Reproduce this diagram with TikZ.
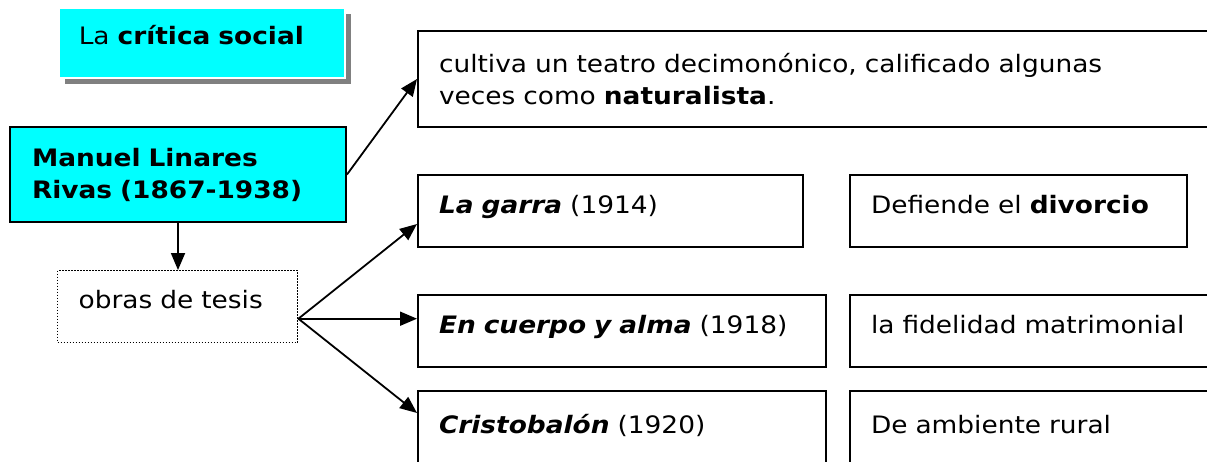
\documentclass[tikz,border=0pt]{standalone}
\usepackage{fontspec}
\setmainfont{DejaVu Sans}[FakeStretch=1.1]
\usetikzlibrary{arrows.meta,shadows}
\definecolor{cian}{RGB}{0,255,255}

\begin{document}
\begin{tikzpicture}[x=1pt,y=-1pt]
    \clip (0,0) rectangle (1207,461);
    \tikzset{caja/.style = {%
        draw, line width=2pt, anchor=north west,
        inner xsep=21pt, inner ysep=0pt, align=left,
        font=\fontsize{24}{32}\selectfont},
      linea/.style = {text height=18pt, text depth=14pt},
      flecha/.style = {line width=1.8pt,
        -{Triangle[length=17pt,width=14pt]}}}
    % columna izquierda
    \node[caja, linea, draw=white, line width=1.5pt, fill=cian, inner xsep=20pt,
        drop shadow={shadow xshift=6pt,shadow yshift=-6pt,fill=gray,opacity=1},
        minimum width=286pt, minimum height=70pt, text width=246pt]
        (critica) at (58,7) {La \textbf{crítica social}};
    \node[caja, fill=cian, inner xsep=22pt, minimum width=336pt,
        minimum height=95pt, text width=292pt]
        (linares) at (9,126) {\textbf{Manuel Linares}\\\textbf{Rivas (1867-1938)}};
    \node[caja, linea, line width=1.4pt, dash pattern=on 1.5pt off 1.5pt,
        minimum width=240pt, minimum height=72pt, text width=198pt]
        (tesis) at (57,270) {obras de tesis};
    % columna central
    \node[caja, minimum width=820pt, minimum height=96pt, text width=778pt]
        (teatro) at (417,30) {cultiva un teatro decimonónico, calificado algunas\\
        veces como \textbf{naturalista}.};
    \node[caja, linea, minimum width=385pt, minimum height=72pt, text width=343pt]
        (garra) at (417,174) {\textbf{\textit{La garra}} (1914)};
    \node[caja, linea, minimum width=408pt, minimum height=72pt, text width=366pt]
        (cuerpo) at (417,294) {\textbf{\textit{En cuerpo y alma}} (1918)};
    \node[caja, linea, minimum width=408pt, minimum height=80pt, text width=366pt]
        (cristobalon) at (417,390) {\textbf{\textit{Cristobalón}} (1920)};
    % columna derecha
    \node[caja, linea, minimum width=337pt, minimum height=72pt, text width=295pt]
        (divorcio) at (849,174) {Defiende el \textbf{divorcio}};
    \node[caja, linea, minimum width=400pt, minimum height=72pt, text width=358pt]
        (fidelidad) at (849,294) {la fidelidad matrimonial};
    \node[caja, linea, minimum width=400pt, minimum height=80pt, text width=358pt]
        (rural) at (849,390) {De ambiente rural};
    % flechas
    \coordinate (fork) at ([yshift=-12pt]tesis.east);
    \draw[flecha] (linares.east) -- (teatro.west);
    \draw[flecha] (linares.south) -- (linares.south |- tesis.north);
    \draw[flecha] (fork) -- ([yshift=-13pt]garra.west);
    \draw[flecha] (fork) -- (fork -| cuerpo.west);
    \draw[flecha] (fork) -- ([yshift=-23pt]cristobalon.north west);
\end{tikzpicture}
\end{document}
